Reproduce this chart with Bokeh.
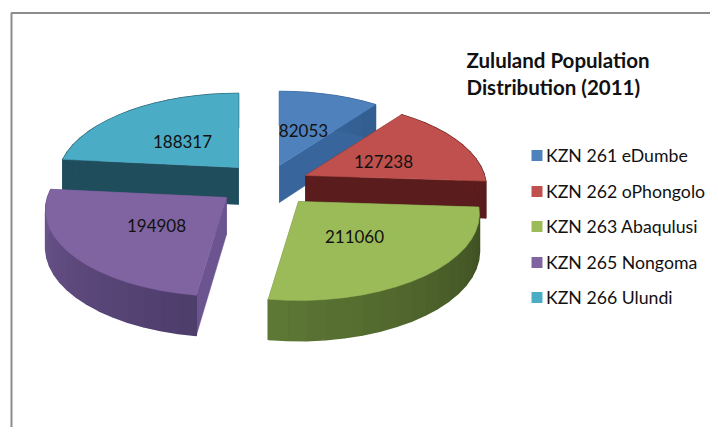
import math
from bokeh.plotting import figure
from bokeh.core.properties import value
from bokeh.embed import file_html
from bokeh.resources import INLINE

names = ["KZN 261 eDumbe", "KZN 262 oPhongolo", "KZN 263 Abaqulusi", "KZN 265 Nongoma", "KZN 266 Ulundi"]
population = [82053, 127238, 211060, 194908, 188317]
top_colors = ["#4F81BD", "#C0504D", "#9BBB59", "#8064A2", "#4BACC6"]
wall_start = ["#3A6AA0", "#5A1C1C", "#3D4D22", "#4E3E6C", "#1F4D5C"]
wall_end = ["#325C8E", "#5A1C1C", "#5F7A36", "#6F5690", "#1F4D5C"]
edge_colors = ["#38669C", "#5A1C1C", "#5F7A36", "#6B5490", "#1F4D5C"]
title_lines = ["Zululand Population", "Distribution (2011)"]

W, H = 710, 427
apex = [(279, 165), (305, 175), (298, 201), (226, 197), (238, 167)]
label_pos = [(303, 130), (383, 161), (354, 236), (156, 225), (182, 141)]
A, B, K, DEPTH, K2 = 179.0, 84.7, 0.1445, 37.0, 0.08
FONT = "Lato"

p = figure(width=W, height=H, x_range=(0, W), y_range=(H, 0),
           toolbar_location=None, output_backend="svg", min_border=0)
p.axis.visible = False
p.grid.visible = False
p.outline_line_color = None
p.background_fill_color = "white"


def pt(i, deg, r=1.0, down=False):
    u = r * math.sin(math.radians(deg))
    v = r * math.cos(math.radians(deg))
    d = 1 + K * v
    x = apex[i][0] + A * u / d
    y = apex[i][1] - B * v / d
    if down:
        y += DEPTH / (1 + K2 * v)
    return x, y


def mix(c1, c2, t):
    a = [int(c1[j:j + 2], 16) for j in (1, 3, 5)]
    b = [int(c2[j:j + 2], 16) for j in (1, 3, 5)]
    return "#%02x%02x%02x" % tuple(round(a[j] + (b[j] - a[j]) * t) for j in range(3))


total = sum(population)
starts = []
acc = 0
for v_ in population:
    starts.append(acc / total * 360)
    acc += v_

for i in [4, 0, 1, 3, 2]:
    a0 = starts[i]
    a1 = a0 + population[i] / total * 360
    n = max(3, int((a1 - a0) / 5))
    angles = [a0 + (a1 - a0) * k / n for k in range(n + 1)]
    for ang in (a0, a1):
        t0, t1 = pt(i, ang, 0), pt(i, ang)
        b0, b1 = pt(i, ang, 0, True), pt(i, ang, 1, True)
        p.patch([t0[0], t1[0], b1[0], b0[0]], [t0[1], t1[1], b1[1], b0[1]],
                fill_color=edge_colors[i], line_color=edge_colors[i], line_width=0.5)
    for k in range(n):
        q0, q1 = angles[k], angles[k + 1]
        t0, t1 = pt(i, q0), pt(i, q1)
        b0, b1 = pt(i, q0, 1, True), pt(i, q1, 1, True)
        col = mix(wall_start[i], wall_end[i], (q0 - a0) / (a1 - a0))
        p.patch([t0[0], t1[0], b1[0], b0[0]], [t0[1], t1[1], b1[1], b0[1]],
                fill_color=col, line_color=col, line_width=1.5)
    outline = [pt(i, a0, 0)] + [pt(i, q) for q in angles]
    p.patch([c[0] for c in outline], [c[1] for c in outline],
            fill_color=top_colors[i], line_color=top_colors[i], line_width=0.5)

p.line([W, 11, 11], [12.5, 12.5, H], line_color="#8C8C8C", line_width=2)

p.text([c[0] for c in label_pos], [c[1] for c in label_pos],
       text=[str(v_) for v_ in population], text_font=value(FONT), text_font_size="17px",
       text_align="center", text_baseline="middle", text_color="#111111")

p.text([466, 466], [59, 86], text=title_lines, text_font=value(FONT), text_font_size="20.5px",
       text_font_style="bold", text_align="left", text_baseline="middle", text_color="#111111")

leg_y = [155, 191, 226, 262, 297]
p.rect([536.5] * 5, leg_y, width=11, height=11, fill_color=top_colors, line_color=None)
p.text([545.5] * 5, leg_y, text=names, text_font=value(FONT), text_font_size="17.7px",
       text_align="left", text_baseline="middle", text_color="#111111")

open("out.html", "w").write(file_html(p, INLINE))
